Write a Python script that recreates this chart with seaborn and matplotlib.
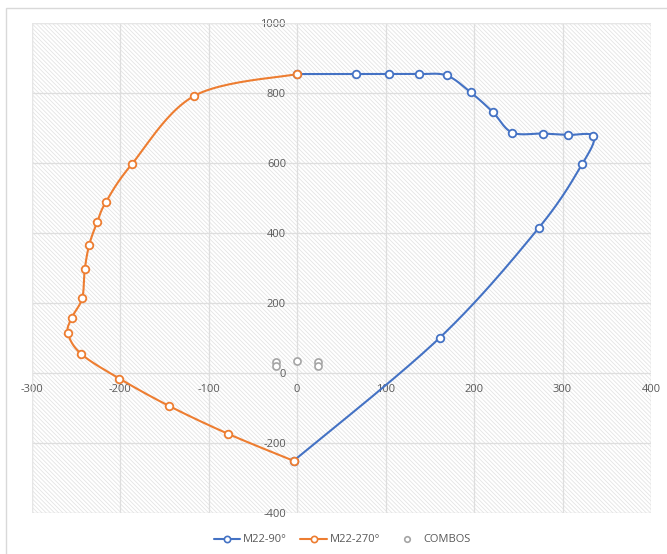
import numpy as np
import pandas as pd
import matplotlib
matplotlib.use("Agg")
import matplotlib.pyplot as plt
from matplotlib.patches import Rectangle
from matplotlib.lines import Line2D
import seaborn as sns

# Interaction diagram points (M, P)
m22_90_x = [0, 67, 104, 138, 169, 196, 221, 243, 278, 306, 335, 322, 273, 161, -4]
m22_90_y = [855, 855, 855, 855, 851, 803, 747, 688, 685, 681, 677, 597, 415, 101, -250]

m22_270_x = [0, -116, -187, -216, -226, -235, -240, -243, -255, -259, -244, -201, -145, -78, -4]
m22_270_y = [855, 793, 597, 490, 432, 367, 297, 214, 158, 114, 55, -15, -93, -173, -250]

combos_x = [-24, -24, 0, 24, 24]
combos_y = [33, 22, 36, 33, 22]

series_names = ["M22-90°", "M22-270°", "COMBOS"]
x_ticks = [-300, -200, -100, 0, 100, 200, 300, 400]
y_ticks = [-400, -200, 0, 200, 400, 600, 800, 1000]

BLUE = "#4472C4"
ORANGE = "#ED7D31"
GRAY = "#A5A5A5"
TEXT = "#595959"


def smooth(xs, ys, steps=24):
    """Cubic Bezier smoothing through every point (Catmull-Rom style)."""
    p = np.column_stack([xs, ys]).astype(float)
    n = len(p)
    out = []
    for i in range(n - 1):
        p0 = p[i - 1] if i > 0 else p[i]
        p1 = p[i]
        p2 = p[i + 1]
        p3 = p[i + 2] if i + 2 < n else p[i + 1]
        c1 = p1 + (p2 - p0) / 6.0
        c2 = p2 - (p3 - p1) / 6.0
        t = np.linspace(0, 1, steps, endpoint=(i == n - 2))[:, None]
        seg = ((1 - t) ** 3) * p1 + 3 * ((1 - t) ** 2) * t * c1 + 3 * (1 - t) * t ** 2 * c2 + t ** 3 * p2
        out.append(seg)
    out = np.vstack(out)
    return out[:, 0], out[:, 1]


sns.set_theme(style="white")
plt.rcParams["font.family"] = ["Open Sans", "DejaVu Sans"]
plt.rcParams["hatch.linewidth"] = 0.6
plt.rcParams["axes.unicode_minus"] = False

fig = plt.figure(figsize=(6.67, 5.54), dpi=100)
ax = fig.add_axes([31.7 / 667, 1 - 513.3 / 554, (651 - 31.7) / 667, (513.3 - 23.3) / 554])
ax.set_facecolor("white")

# outer chart frame
fig.patches.append(Rectangle((5.5 / 667, -0.1), 1.2, 1 - 8.5 / 554 + 0.1,
                             transform=fig.transFigure, fill=False,
                             edgecolor="#d9d9d9", linewidth=1.0, zorder=0))

# hatched plot area
ax.add_patch(Rectangle((0, 0), 1, 1, transform=ax.transAxes, facecolor="white",
                       edgecolor="#e4e4e4", hatch="\\" * 8, linewidth=0, zorder=0))

ax.set_xlim(-300, 400)
ax.set_ylim(-400, 1000)
ax.set_xticks(x_ticks)
ax.set_yticks(y_ticks)
ax.grid(True, color="#dedede", linewidth=0.9, zorder=1)
ax.set_axisbelow(True)

for s in ["top", "right"]:
    ax.spines[s].set_visible(False)
ax.spines["left"].set_position(("data", 0))
ax.spines["bottom"].set_position(("data", 0))
ax.spines["left"].set_visible(False)
ax.spines["bottom"].set_visible(False)
ax.tick_params(axis="both", length=0, pad=8, labelsize=8, labelcolor=TEXT)

# frame edge of plot area
for sx in (-300, 400):
    ax.axvline(sx, color="#e6e6e6", linewidth=0.9, zorder=1)
for sy in (-400, 1000):
    ax.axhline(sy, color="#e6e6e6", linewidth=0.9, zorder=1)

for xs, ys, color in [(m22_90_x, m22_90_y, BLUE), (m22_270_x, m22_270_y, ORANGE)]:
    sx, sy = smooth(xs, ys)
    curve = pd.DataFrame({"x": sx, "y": sy})
    sns.lineplot(data=curve, x="x", y="y", sort=False, estimator=None, color=color,
                 linewidth=1.5, ax=ax, zorder=3)
    pts = pd.DataFrame({"x": xs, "y": ys})
    sns.scatterplot(data=pts, x="x", y="y", marker="o", s=30, facecolor="white",
                    edgecolor=color, linewidth=1.3, ax=ax, zorder=4)

combos = pd.DataFrame({"x": combos_x, "y": combos_y})
sns.scatterplot(data=combos, x="x", y="y", marker="o", s=26, facecolor="white",
                edgecolor=GRAY, linewidth=1.2, ax=ax, zorder=4)

ax.set_xlabel("")
ax.set_ylabel("")

handles = [
    Line2D([], [], color=BLUE, linewidth=1.5, marker="o", markersize=4.5,
           markerfacecolor="white", markeredgecolor=BLUE, markeredgewidth=1.2),
    Line2D([], [], color=ORANGE, linewidth=1.5, marker="o", markersize=4.5,
           markerfacecolor="white", markeredgecolor=ORANGE, markeredgewidth=1.2),
    Line2D([], [], linestyle="none", marker="o", markersize=4,
           markerfacecolor="white", markeredgecolor=GRAY, markeredgewidth=1.2),
]
leg = fig.legend(handles, series_names, loc="center", bbox_to_anchor=(342 / 667, 1 - 540 / 554),
                 ncol=3, frameon=False, fontsize=8, handlelength=2.4, columnspacing=1.2,
                 handletextpad=0.25)
for t in leg.get_texts():
    t.set_color(TEXT)

fig.savefig("out.png", dpi=100)
